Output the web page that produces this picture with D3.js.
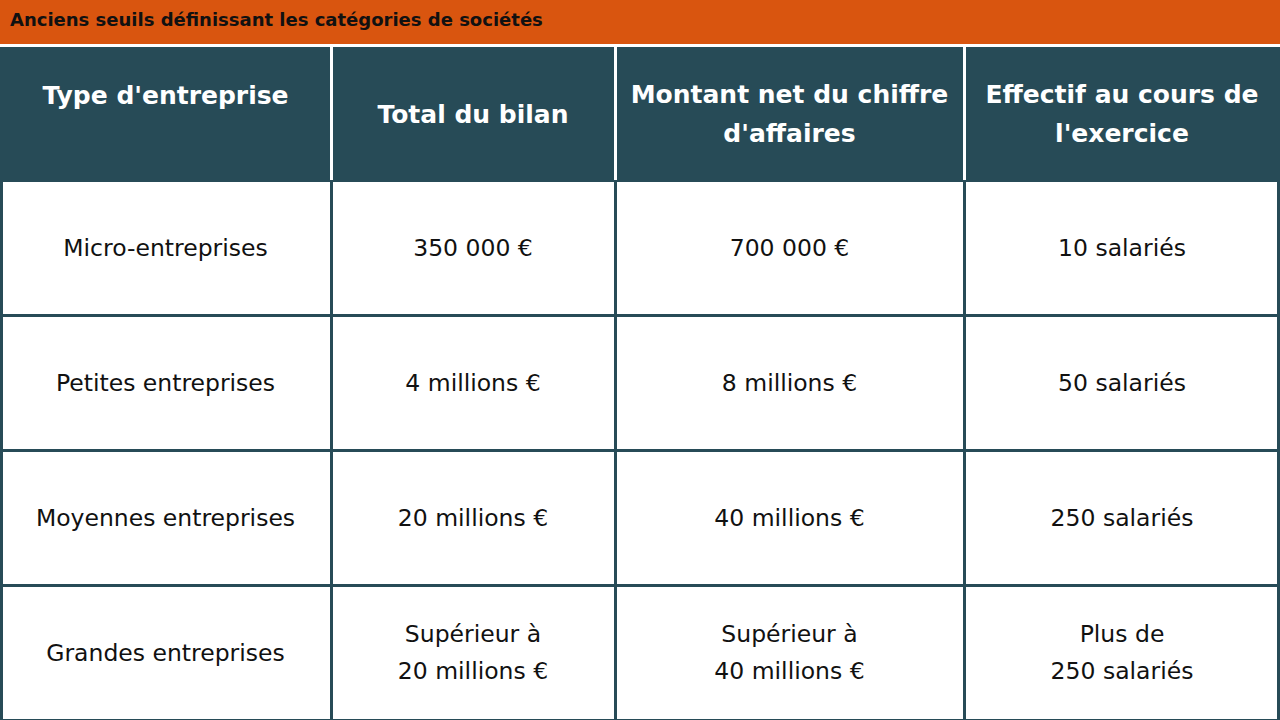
<!DOCTYPE html><html><head><meta charset="utf-8">
<script src="https://cdn.jsdelivr.net/npm/d3@7"></script>
<style>body{margin:0;background:#fff}</style></head><body>
<svg id="c" width="1280" height="720"></svg>
<script>
const title = "Anciens seuils définissant les catégories de sociétés";
const headers = [["Type d'entreprise"],["Total du bilan"],["Montant net du chiffre","d'affaires"],["Effectif au cours de","l'exercice"]];
const categories = ["Micro-entreprises","Petites entreprises","Moyennes entreprises","Grandes entreprises"];
const bilan = [["350 000 €"],["4 millions €"],["20 millions €"],["Supérieur à","20 millions €"]];
const chiffre = [["700 000 €"],["8 millions €"],["40 millions €"],["Supérieur à","40 millions €"]];
const effectif = [["10 salariés"],["50 salariés"],["250 salariés"],["Plus de","250 salariés"]];
const colEdges = [0,331,615,964,1280];
const svg = d3.select("#c");
const dark="#274b57";
svg.append("rect").attr("width",1280).attr("height",44).attr("fill","#d9550f");
svg.append("text").attr("x",10).attr("y",26).attr("font-family","DejaVu Sans").attr("font-weight","bold").attr("font-size",18).attr("fill","#111").text(title);
svg.append("rect").attr("y",44).attr("width",1280).attr("height",676).attr("fill",dark);
svg.append("rect").attr("y",44).attr("width",1280).attr("height",3).attr("fill","#fff");
const y = d3.scaleBand().domain(d3.range(4)).range([180,720]);
const rows = categories.map((c,i)=>[[c],bilan[i],chiffre[i],effectif[i]]);
headers.forEach((h,j)=>{
  const x0=colEdges[j], x1=colEdges[j+1], cx=(x0+x1)/2;
  if(j>0) svg.append("rect").attr("x",x0-1).attr("y",47).attr("width",3).attr("height",133).attr("fill","#fff");
  const cy = j===0?95:114;
  h.forEach((t,k)=>svg.append("text").attr("x",cx).attr("y",cy+(k-(h.length-1)/2)*39).attr("dy","0.35em")
    .attr("text-anchor","middle").attr("font-family","DejaVu Sans").attr("font-weight","bold").attr("font-size",25).attr("fill","#fff").text(t));
});
rows.forEach((r,i)=>{
  r.forEach((lines,j)=>{
    const x0=colEdges[j]+(j===0?3:2), x1=colEdges[j+1]-(j===3?3:1);
    svg.append("rect").attr("x",x0).attr("y",y(i)+2).attr("width",x1-x0).attr("height",y.bandwidth()-3).attr("fill","#fff");
    const cx=(colEdges[j]+colEdges[j+1])/2, cy=y(i)+y.bandwidth()/2;
    lines.forEach((t,k)=>svg.append("text").attr("x",cx).attr("y",cy+(k-(lines.length-1)/2)*37).attr("dy","0.35em")
      .attr("text-anchor","middle").attr("font-family","DejaVu Sans").attr("font-size",23.5).attr("fill","#111").text(t));
  });
});
</script></body></html>
